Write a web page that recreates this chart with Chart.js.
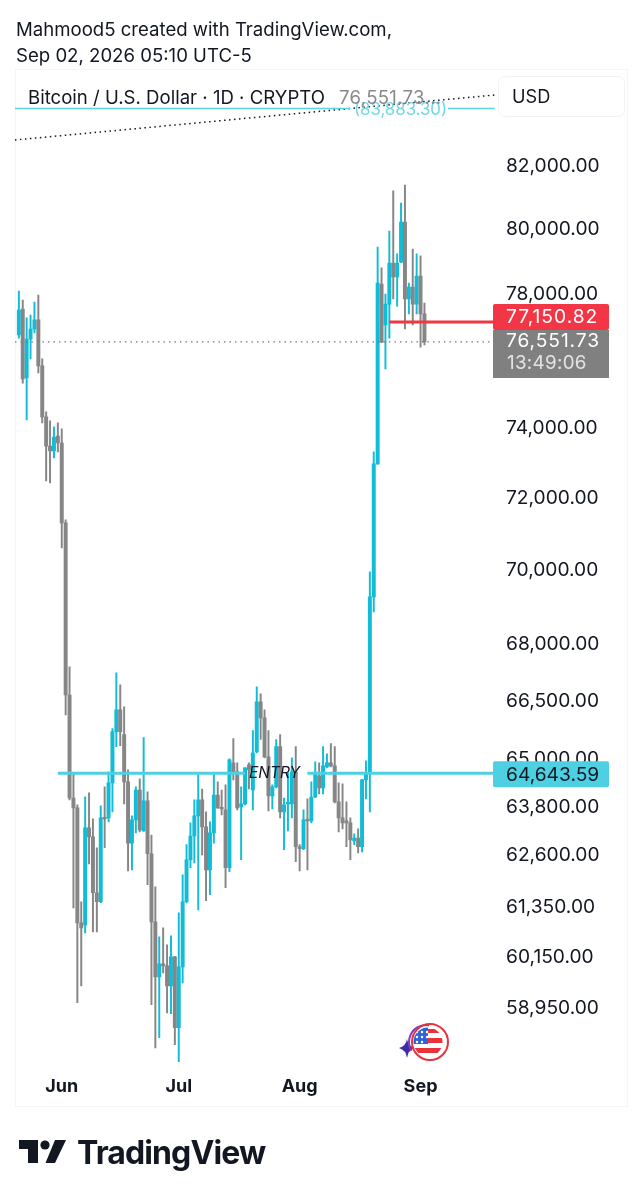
<!DOCTYPE html>
<html>
<head>
<meta charset="utf-8">
<script src="https://cdn.jsdelivr.net/npm/chart.js@4/dist/chart.umd.min.js"></script>
<style>
html,body{margin:0;padding:0;background:#fff;width:642px;height:1200px;overflow:hidden}
body{font-family:Inter,"Noto Sans",sans-serif;color:#131722}
#c{position:absolute;left:0;top:0}
.t{position:absolute;white-space:nowrap}
#frame{position:absolute;left:15px;top:69px;width:611px;height:1036px;border:1px solid #f5f5f6;box-sizing:content-box}
#usd{position:absolute;left:498px;top:76px;width:125px;height:39px;border:1px solid #f3f3f5;border-radius:7px;background:#fff}
</style>
</head>
<body>
<div id="frame"></div>
<canvas id="c" width="642" height="1200"></canvas>
<div id="usd"></div>
<div class="t" style="left:16px;top:18px;font-size:18.6px;line-height:22px">Mahmood5 created with TradingView.com,</div>
<div class="t" style="left:16px;top:44px;font-size:18.6px;line-height:22px">Sep 02, 2026 05:10 UTC-5</div>
<div class="t" style="left:28px;top:86px;font-size:18.6px;line-height:22px">Bitcoin / U.S. Dollar · 1D · CRYPTO</div>
<div class="t" style="left:339px;top:86px;font-size:18.6px;line-height:22px;color:#8a8a8a;letter-spacing:.3px">76,551.73...</div>
<div class="t" style="left:512px;top:85px;font-size:18.2px;line-height:22px">USD</div>
<svg class="t" style="left:0;top:1130px" width="80" height="44" viewBox="0 1130 80 44">
  <path fill="#131722" d="M19 1140H38V1163H28V1149H19Z"/>
  <circle fill="#131722" cx="45" cy="1145" r="4.6"/>
  <path fill="#131722" d="M55 1140H66L55 1163H45.5Z"/>
</svg>
<div class="t" style="left:77px;top:1132px;font-size:32px;line-height:42px;font-weight:700;letter-spacing:-.9px">TradingView</div>
<script>
const upColor = '#12bcd6', downColor = '#868686', levelColor = '#4dd0e1', redColor = '#f23645';
const yTickValues = [82000,80000,78000,74000,72000,70000,68000,66500,65000,63800,62600,61350,60150,58950];
const monthLabels = {'2026-06-01':'Jun','2026-07-01':'Jul','2026-08-01':'Aug','2026-09-01':'Sep'};
const entryLevel = 64643.59, upperLevel = 83883.30, lastPrice = 76551.73, redLevel = 77150.82;
const trendStart = 82856, trendEnd = 84330;

const opens = [76758,77546,75477,76636,76940,77213,75834,74333,73490,73349,73780,73578,71309,66659,64020,63774,60963,60915,63278,63052,61688,61470,63525,63525,64401,65709,66270,65632,64426,62900,63475,64223,63200,63948,62638,60987,59687,59992,59945,59475,60157,58507,59921,61470,62490,63075,63575,63973,63300,62243,63150,64097,63774,63725,62295,64910,64680,63799,63873,64858,64223,65190,66480,66063,65060,64072,64299,65325,63675,63873,63873,64680,62810,62760,63475,63450,64045,64580,64274,64807,64910,64833,63923,63525,63450,63400,62950,63025,62810,64478,64655,69270,72977,78308,77062,77695,78957,78525,78988,80235,77850,78216,77695,78555,77395];
const highs = [78092,77819,77274,77364,77758,77968,76042,74479,74217,74042,74159,73985,71393,67397,64655,63848,61470,64050,64150,63500,62784,63824,64299,64680,65785,67240,66922,66348,64731,63575,64299,64503,65555,64173,63100,61830,60629,60843,60440,60653,60170,61203,62121,62860,63400,63973,64604,64248,63675,63425,64655,64426,64223,64350,65010,65530,64910,64299,64790,64910,65735,66870,66690,66270,65735,64350,65505,65632,64020,64655,65035,65325,62860,63725,63998,64426,64935,64910,65325,65140,65400,65325,64401,64375,63923,63525,63125,63250,64490,64960,69953,73321,79453,78803,78000,79950,81218,79237,80836,81408,78339,79390,79237,79175,77725];
const lows = [76667,75326,74246,76042,76819,75626,74159,72491,72434,73149,73320,70613,66141,63970,61323,59085,59475,60723,62390,60747,60747,61450,62784,63425,63675,65325,65350,63873,62219,62243,63150,63175,63190,61880,59040,58050,58279,59780,58850,58830,58120,57733,59545,61440,62295,62415,61275,62610,61495,61640,62900,63760,63600,61810,62200,64478,63725,62490,63848,64248,63725,65165,65505,65035,63700,63750,64274,63525,62735,63200,63525,62440,62219,62735,62243,63400,64030,64122,64122,64782,64807,63898,63175,63250,62810,62490,62860,62660,62685,63998,63675,68865,72960,76530,75745,76667,77850,77635,78970,76940,77395,77062,77395,76395,76460];
const closes = [77516,75448,76636,76940,77213,75834,74333,73490,73349,73751,73578,71309,66659,64020,63774,60963,60843,63278,63052,61688,61470,63525,63500,64401,65709,66270,65709,64426,62900,63475,64223,63226,63948,62638,60987,59687,59992,59945,59475,60157,58507,59921,61470,62490,63075,63575,63973,63300,62243,63150,64097,63774,63750,62295,64985,64680,63774,63873,64782,64731,65165,66480,66063,65060,64072,64299,65325,63675,63848,63898,64680,62810,62760,63475,63450,64045,64655,64274,64833,64910,64833,63923,63525,63400,63400,62975,63025,62810,64478,64655,69270,72977,78339,76546,77695,78957,78525,78957,80235,77850,78216,77695,78555,77395,76551.73];

// one blank day before the first candle, then 105 candles, then empty room on the right
const dayCount = 124;
const dates = [];
for (let d = 0; d < dayCount; d++) {
  dates.push(new Date(Date.UTC(2026, 4, 20 + d)).toISOString().slice(0, 10));
}
const firstCandle = 1;
const pick = (fn) => dates.map((_, i) => {
  const k = i - firstCandle;
  return k >= 0 && k < opens.length ? fn(k) : null;
});
const wickData = pick(k => [lows[k], highs[k]]);
const bodyData = pick(k => [Math.min(opens[k], closes[k]), Math.max(opens[k], closes[k])]);
const candleColors = pick(k => closes[k] >= opens[k] ? upColor : downColor);

const levelLine = (value, from, to) => dates.map((_, i) => i >= from && i <= to ? value : null);
const lineDs = (data, color, width, dash) => ({
  type: 'line', data, borderColor: color, borderWidth: width, borderDash: dash || [],
  pointRadius: 0, order: 0, spanGaps: false, fill: false, tension: 0, borderCapStyle: 'butt'
});
const last = dayCount - 1;
const trendData = dates.map((_, i) => i === 0 ? trendStart : i === last ? trendEnd : null);
const trendDs = lineDs(trendData, '#131722', 1.5, [1.5, 3.5]);
trendDs.spanGaps = true;

const overlay = {
  id: 'overlay',
  afterDraw(chart) {
    const { ctx, scales: { y } } = chart;
    const setText = (font, spacing) => {
      ctx.font = font; ctx.letterSpacing = spacing;
      ctx.textAlign = 'left'; ctx.textBaseline = 'middle';
    };
    const tag = (value, shift, color, text, textColor, h, spacing) => {
      const cy = y.getPixelForValue(value) + shift;
      ctx.fillStyle = color;
      ctx.beginPath(); ctx.roundRect(493, cy - h / 2, 116, h, 2); ctx.fill();
      ctx.fillStyle = textColor;
      setText('19.2px Inter', spacing);
      ctx.fillText(text, 506, cy + 0.5);
    };
    tag(redLevel, -5, redColor, '77,150.82', '#ffffff', 26, '1px');
    // last-price tag with countdown
    ctx.fillStyle = '#808080'; ctx.fillRect(493, 330, 116, 48);
    ctx.fillStyle = '#ffffff'; setText('19.2px Inter', '0.9px');
    ctx.fillText('76,551.73', 506, 341.5);
    ctx.fillStyle = '#e3e3e3'; setText('18.8px Inter', '0.3px');
    ctx.fillText('13:49:06', 507, 363.5);
    tag(entryLevel, 1, levelColor, '64,643.59', '#131722', 26, '0px');
    // level captions
    ctx.fillStyle = '#6fd6e6'; setText('16.8px Inter', '0px'); ctx.textAlign = 'center';
    ctx.fillText('(83,883.30)', 400.5, y.getPixelForValue(upperLevel) + 1);
    ctx.fillStyle = '#131722'; setText('italic 15.5px Inter', '0px'); ctx.textAlign = 'center';
    ctx.fillText('ENTRY', 274.5, y.getPixelForValue(entryLevel));
    // flag badge
    ctx.fillStyle = '#3f2aa8';
    ctx.beginPath();
    ctx.moveTo(407, 1039); ctx.quadraticCurveTo(408, 1046, 415, 1048);
    ctx.quadraticCurveTo(408, 1050, 407, 1058); ctx.quadraticCurveTo(406, 1050, 399, 1048);
    ctx.quadraticCurveTo(406, 1046, 407, 1039); ctx.fill();
    ctx.strokeStyle = '#7c3fc0'; ctx.lineWidth = 2;
    ctx.beginPath(); ctx.arc(426, 1042, 17, 2.6, 4.9); ctx.stroke();
    ctx.strokeStyle = '#e8323c'; ctx.lineWidth = 2;
    ctx.beginPath(); ctx.arc(430, 1042, 18, 0, 7); ctx.stroke();
    ctx.save();
    ctx.beginPath(); ctx.arc(428, 1042, 14.5, 0, 7); ctx.clip();
    ctx.fillStyle = '#ffffff'; ctx.fillRect(412, 1026, 32, 32);
    ctx.fillStyle = '#e8323c';
    ctx.fillRect(428, 1029, 18, 4); ctx.fillRect(428, 1038, 18, 5); ctx.fillRect(412, 1048, 32, 5);
    ctx.fillStyle = '#2f63d6'; ctx.fillRect(412, 1026, 16, 18);
    ctx.fillStyle = '#ffffff';
    [[417,1032],[422,1032],[427,1032],[417,1037],[422,1037],[427,1037],[417,1042],[422,1042]].forEach(p => {
      ctx.beginPath(); ctx.arc(p[0], p[1], 1.2, 0, 7); ctx.fill();
    });
    ctx.restore();
  }
};

new Chart(document.getElementById('c'), {
  type: 'bar',
  data: {
    labels: dates,
    datasets: [
      lineDs(levelLine(upperLevel, 0, 86), '#5fd0e2', 1.5),
      lineDs(levelLine(upperLevel, 111, last), '#5fd0e2', 1.5),
      trendDs,
      lineDs(levelLine(lastPrice, 0, last), '#777777', 1.2, [1.5, 4]),
      lineDs(levelLine(redLevel, 96, last), redColor, 3),
      lineDs(levelLine(entryLevel, 11, 59), levelColor, 3),
      lineDs(levelLine(entryLevel, 75, last), levelColor, 3),
      { data: bodyData, backgroundColor: candleColors, barThickness: 3.3, minBarLength: 1.5, grouped: false, order: 1 },
      { data: wickData, backgroundColor: candleColors, barThickness: 1.3, grouped: false, order: 2 }
    ]
  },
  options: {
    responsive: false, animation: false, devicePixelRatio: 1,
    layout: { padding: { left: 13, right: 16, top: 70, bottom: 95 } },
    plugins: { legend: { display: false }, tooltip: { enabled: false } },
    scales: {
      x: {
        type: 'category', offset: true,
        grid: { display: false, drawTicks: false }, border: { display: false },
        afterFit(s) { s.height = 40; },
        ticks: {
          autoSkip: false, maxRotation: 0, padding: 11,
          font: { family: 'Inter', size: 18, weight: '700' }, color: '#131722',
          callback(v) { return monthLabels[this.getLabelForValue(v)] || ''; }
        }
      },
      y: {
        type: 'logarithmic', position: 'right', min: 57660, max: 85160, bounds: 'data',
        grid: { display: false, drawTicks: false }, border: { display: false },
        afterFit(s) { s.width = 129.4; },
        afterBuildTicks(s) { s.ticks = yTickValues.map(value => ({ value })); },
        ticks: {
          autoSkip: false, padding: 9.4, font: { family: 'Inter', size: 19.2 }, color: '#131722',
          callback(v) { return v.toLocaleString('en-US', { minimumFractionDigits: 2, maximumFractionDigits: 2 }); }
        }
      }
    }
  },
  plugins: [overlay]
});
</script>
</body>
</html>
